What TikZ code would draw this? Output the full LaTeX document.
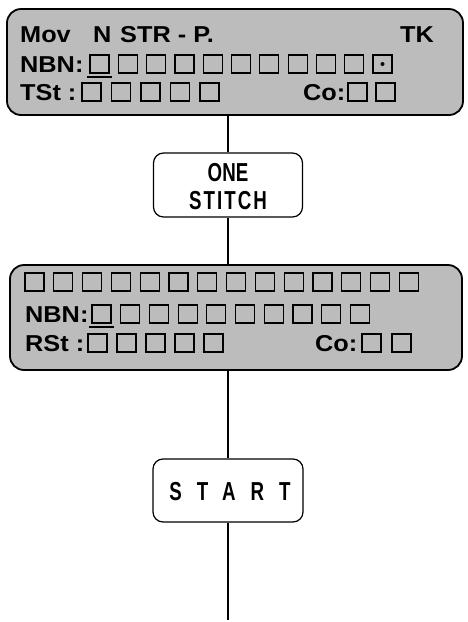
\documentclass[tikz,border=0pt]{standalone}
\usepackage{fontspec}
\setmainfont{Liberation Sans}
\newfontfamily\lcdfont[FakeStretch=1.1]{Liberation Sans}
\newfontfamily\keyfont[FakeStretch=0.72]{Liberation Sans}
\usetikzlibrary{calc}
\definecolor{ScreenClr}{RGB}{188,188,188}

% row of input cells: x of first cell, pitch, count, baseline
\newcommand{\cellrow}[4]{%
  \foreach \i in {1,...,#3}{\draw[cell] ({#1+(\i-1)*#2},{#4-17}) rectangle ++(19,18);}}

\begin{document}
\begin{tikzpicture}[x=1pt,y=-1pt,
  screen/.style={draw,line width=1.8pt,rounded corners=14pt,fill=ScreenClr,inner sep=0pt},
  key/.style={draw,line width=1.2pt,rounded corners=10pt,fill=white,inner sep=0pt},
  keytext/.style={anchor=base,inner sep=0pt,font=\keyfont\bfseries\fontsize{26}{26}\selectfont},
  lcd/.style={anchor=base west,inner sep=0pt,font=\lcdfont\bfseries\fontsize{23}{23}\selectfont},
  cell/.style={line width=1.2pt},
  link/.style={line width=1.2pt}]
\useasboundingbox (0,0) rectangle (468,622);

% screen before ONE STITCH
\node[screen,minimum width=456pt,minimum height=106pt] (scrA) at (235,62) {};
\node[lcd] (movA) at (20,42) {Mov};
\node[lcd] (nA) at (93,42) {N};
\node[lcd] (strA) at (120,42) {STR - P.};
\node[lcd] (tkA) at (400,42) {TK};
\node[lcd] (nbnA) at (20,72) {NBN:};
\cellrow{90}{28.3}{11}{72}
\draw[line width=1.6pt] (87,77) -- (112,77);
\fill (382.5,64) circle (2pt);
\node[lcd] (tstA) at (20,100) {TSt :};
\cellrow{82}{29.5}{5}{100}
\node[lcd] (coA) at (303,100) {Co:};
\cellrow{348}{28}{2}{100}

% keys
\node[key,minimum width=149pt,minimum height=64pt] (keyA) at (228,185) {};
\node[keytext] (oneA) at (228,181) {ONE};
\node[keytext] (stitchA) at (228,209) {\addfontfeature{LetterSpace=8}STITCH};
\node[key,minimum width=150pt,minimum height=63pt] (keyB) at (228,490.5) {};
\node[keytext] (startB) at (230,500) {\addfontfeature{LetterSpace=58}START};

% screen after ONE STITCH
\node[screen,minimum width=452pt,minimum height=105pt] (scrB) at (236,317.5) {};
\cellrow{25}{28.8}{14}{290}
\node[lcd] (nbnB) at (25,322) {NBN:};
\cellrow{92}{28.7}{10}{322}
\draw[line width=1.6pt] (89,327) -- (114,327);
\node[lcd] (rstB) at (25,351) {RSt :};
\cellrow{88}{29}{5}{351}
\node[lcd] (coB) at (315,351) {Co:};
\cellrow{362}{30}{2}{351}

% links
\coordinate (tail) at (228,620);
\draw[link] (keyA.north |- scrA.south) -- (keyA.north);
\draw[link] (keyA.south) -- (keyA.south |- scrB.north);
\draw[link] (keyB.north |- scrB.south) -- (keyB.north);
\draw[link] (keyB.south) -- (tail);

\end{tikzpicture}
\end{document}
